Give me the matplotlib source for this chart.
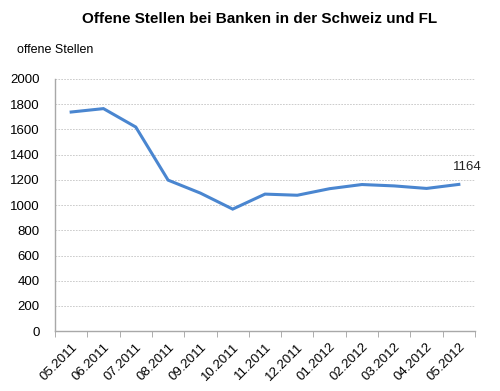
import matplotlib.pyplot as plt
import numpy as np

plt.rcParams['font.family'] = ['Liberation Sans', 'DejaVu Sans']

monate = ['05.2011', '06.2011', '07.2011', '08.2011', '09.2011', '10.2011', '11.2011',
          '12.2011', '01.2012', '02.2012', '03.2012', '04.2012', '05.2012']
stellen = [1738, 1765, 1619, 1198, 1095, 968, 1087, 1078, 1130, 1163, 1152, 1132, 1164]

fig = plt.figure(figsize=(5, 3.91), dpi=100)
ax = fig.add_axes([0.11, 0.153, 0.84, 0.645])

x = np.arange(len(monate))
ax.plot(x, stellen, color='#4a86d0', lw=2.2, solid_joinstyle='miter')
ax.annotate(str(stellen[-1]), (x[-1], stellen[-1]), xytext=(6, 8), textcoords='offset points',
            ha='center', va='bottom', fontsize=9.5, color='#222222')

ax.set_xlim(-0.5, len(monate) - 0.5)
ax.set_ylim(0, 2000)
ax.set_yticks(range(0, 2001, 200))
ax.yaxis.grid(True, ls=(0, (2, 1.5)), color='#c4c4c4', lw=0.6)
ax.set_axisbelow(True)

ax.set_xticks(x)
ax.set_xticklabels(monate, rotation=45, ha='right', rotation_mode='anchor', fontsize=9.5)
ax.set_xticks(np.arange(-0.5, len(monate)), minor=True)
ax.tick_params(axis='x', which='major', length=0, pad=7)
ax.tick_params(axis='x', which='minor', length=4, color='#a0a0a0')
ax.tick_params(axis='y', length=0, labelsize=9.5, pad=11)

for s in ['top', 'right']:
    ax.spines[s].set_visible(False)
for s in ['left', 'bottom']:
    ax.spines[s].set_color('#a8a8a8')
    ax.spines[s].set_linewidth(1)

fig.text(0.52, 0.952, 'Offene Stellen bei Banken in der Schweiz und FL', ha='center', va='center',
         fontsize=11, fontweight='bold')
fig.text(0.034, 0.872, 'offene Stellen', ha='left', va='center', fontsize=9)

fig.savefig('out.png', dpi=100)
